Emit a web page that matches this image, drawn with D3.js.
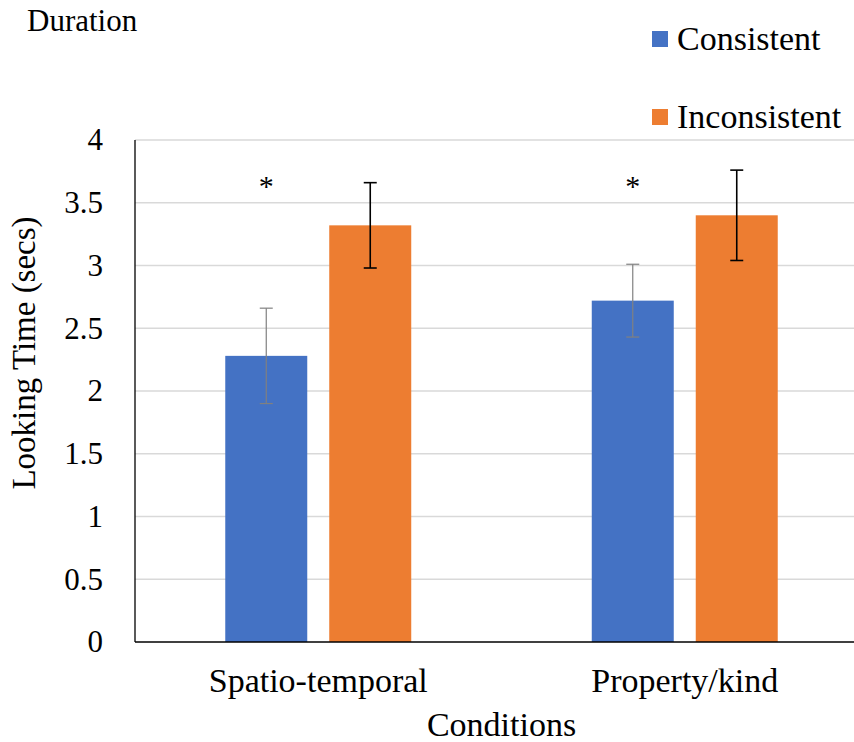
<!DOCTYPE html>
<html>
<head>
<meta charset="utf-8">
<script src="https://cdn.jsdelivr.net/npm/d3@7"></script>
<style>
  html, body { margin: 0; padding: 0; background: #fff; }
  svg { display: block; }
  text { font-family: "Liberation Serif", "Times New Roman", serif; fill: #000; }
</style>
</head>
<body>
<svg id="chart" width="854" height="742"></svg>
<script>
const categories = ["Spatio-temporal", "Property/kind"];
const seriesNames = ["Consistent", "Inconsistent"];
const consistentValues = [2.28, 2.72];
const inconsistentValues = [3.32, 3.40];
const consistentErrors = [0.38, 0.29];
const inconsistentErrors = [0.34, 0.36];
const significant = [true, true];
const yTicks = [0, 0.5, 1, 1.5, 2, 2.5, 3, 3.5, 4];
const colors = ["#4472C4", "#ED7D31"];
const errColors = ["#808080", "#000000"];

const svg = d3.select("#chart");
const plotLeft = 135, plotRight = 868, plotTop = 140, plotBottom = 642;
const serif = '"Liberation Serif", "Times New Roman", serif';

const x = d3.scaleBand().domain(categories).range([plotLeft, plotRight]).paddingInner(0).paddingOuter(0);
const xSub = d3.scaleBand().domain(seriesNames).range([0, x.bandwidth()])
  .paddingInner(0.2115).paddingOuter(0.868);
const y = d3.scaleLinear().domain([0, 4]).range([plotBottom, plotTop]);

const values = [consistentValues, inconsistentValues];
const errors = [consistentErrors, inconsistentErrors];
const data = [];
categories.forEach((c, i) => {
  seriesNames.forEach((s, j) => {
    data.push({ cat: c, series: s, v: values[j][i], e: errors[j][i], j });
  });
});

// gridlines
svg.append("g").selectAll("line").data(yTicks.filter(t => t > 0)).join("line")
  .attr("x1", plotLeft).attr("x2", plotRight)
  .attr("y1", d => y(d)).attr("y2", d => y(d))
  .attr("stroke", "#d9d9d9").attr("stroke-width", 1.3);

// y axis
const yAxis = d3.axisLeft(y).tickValues(yTicks).tickSize(0).tickPadding(32)
  .tickFormat(d => String(d));
const gy = svg.append("g").attr("transform", `translate(${plotLeft},0)`).call(yAxis);
gy.select(".domain").remove();
gy.selectAll("text").style("font-size", "31px").style("font-family", serif).attr("fill", "#000");

// bars
svg.append("g").selectAll("rect").data(data).join("rect")
  .attr("x", d => x(d.cat) + xSub(d.series))
  .attr("width", xSub.bandwidth())
  .attr("y", d => y(d.v))
  .attr("height", d => y(0) - y(d.v))
  .attr("fill", d => colors[d.j]);

// error bars
const eg = svg.append("g");
data.forEach(d => {
  const cx = x(d.cat) + xSub(d.series) + xSub.bandwidth() / 2;
  const sw = d.j === 0 ? 1.2 : 1.6;
  const col = errColors[d.j];
  eg.append("line").attr("x1", cx).attr("x2", cx).attr("y1", y(d.v + d.e)).attr("y2", y(d.v - d.e))
    .attr("stroke", col).attr("stroke-width", sw);
  [d.v + d.e, d.v - d.e].forEach(t => {
    eg.append("line").attr("x1", cx - 6.5).attr("x2", cx + 6.5).attr("y1", y(t)).attr("y2", y(t))
      .attr("stroke", col).attr("stroke-width", sw);
  });
});

// axes lines
svg.append("line").attr("x1", plotLeft).attr("x2", plotLeft).attr("y1", plotTop).attr("y2", plotBottom)
  .attr("stroke", "#000").attr("stroke-width", 1.3);
svg.append("line").attr("x1", plotLeft).attr("x2", plotRight).attr("y1", plotBottom).attr("y2", plotBottom)
  .attr("stroke", "#000").attr("stroke-width", 1.3);

// significance asterisks
svg.append("g").selectAll("text").data(categories.filter((c, i) => significant[i])).join("text")
  .attr("x", c => x(c) + xSub(seriesNames[0]) + xSub.bandwidth() / 2)
  .attr("y", 196)
  .attr("text-anchor", "middle")
  .style("font-size", "30px").style("font-family", serif)
  .text("*");

// category labels
svg.append("g").selectAll("text").data(categories).join("text")
  .attr("x", c => x(c) + x.bandwidth() / 2)
  .attr("y", 692)
  .attr("text-anchor", "middle")
  .style("font-size", "34px").style("font-family", serif)
  .text(c => c);

// axis titles
svg.append("text").attr("x", (plotLeft + plotRight) / 2).attr("y", 736).attr("text-anchor", "middle")
  .style("font-size", "34px").style("font-family", serif).text("Conditions");
svg.append("text").attr("transform", "translate(35,353) rotate(-90)")
  .attr("text-anchor", "middle").style("font-size", "33px").style("font-family", serif)
  .text("Looking Time (secs)");

// top-left label
svg.append("text").attr("x", 27).attr("y", 31).style("font-size", "31px").style("font-family", serif).text("Duration");

// legend
const lg = svg.append("g");
seriesNames.forEach((s, j) => {
  const yy = 31 + j * 78;
  lg.append("rect").attr("x", 652).attr("y", yy).attr("width", 16).attr("height", 16).attr("fill", colors[j]);
  lg.append("text").attr("x", 677).attr("y", yy + 19).style("font-size", "34px").style("font-family", serif).text(s);
});
</script>
</body>
</html>
